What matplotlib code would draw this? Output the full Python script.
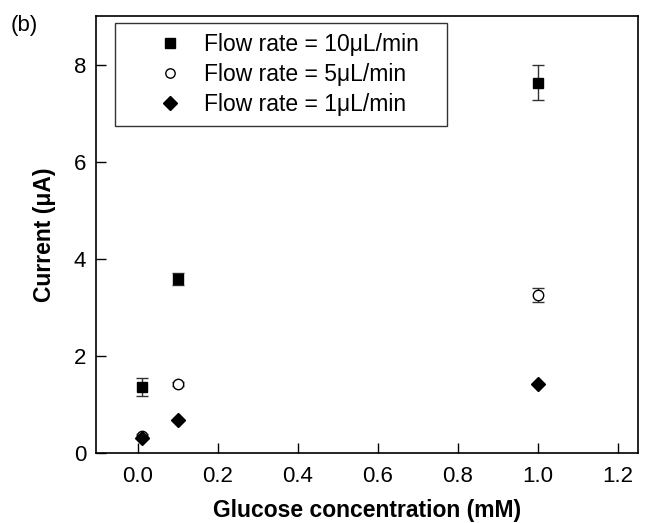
import matplotlib
matplotlib.use("Agg")
import matplotlib.pyplot as plt

plt.rcParams['font.family'] = ['Liberation Sans', 'DejaVu Sans']

conc = [0.01, 0.1, 1.0]
cur_10 = [1.36, 3.58, 7.63]
err_10 = [0.18, 0.13, 0.36]
cur_5 = [0.36, 1.42, 3.26]
err_5 = [0.03, 0.04, 0.14]
cur_1 = [0.30, 0.68, 1.42]
err_1 = [0.0, 0.0, 0.0]

fig = plt.figure(figsize=(6.57, 5.23), dpi=100)
ax = fig.add_axes([96/657, 70/523, 542/657, 437/523])

ax.errorbar(conc, cur_10, yerr=err_10, fmt='s', color='black', ms=7.5,
            ecolor='#333333', elinewidth=1, capsize=4.5,
            label='Flow rate = 10μL/min')
ax.errorbar(conc, cur_5, yerr=err_5, fmt='o', mfc='white', mec='black', ms=7.5,
            ecolor='#333333', elinewidth=1, capsize=4.5,
            label='Flow rate = 5μL/min')
ax.errorbar(conc, cur_1, yerr=err_1, fmt='D', color='black', ms=7.5,
            ecolor='#333333', elinewidth=1, capsize=0,
            label='Flow rate = 1μL/min')

ax.set_xlim(-0.105, 1.25)
ax.set_ylim(0, 9)
ax.set_xticks([0.0, 0.2, 0.4, 0.6, 0.8, 1.0, 1.2])
ax.set_yticks([0, 2, 4, 6, 8])
ax.tick_params(direction='in', length=7, labelsize=16, width=1)
ax.tick_params(axis='x', pad=9)
ax.tick_params(axis='y', pad=7)
for s in ax.spines.values():
    s.set_linewidth(1.2)

ax.set_xlabel('Glucose concentration (mM)', fontsize=16.5, fontweight='bold',
              labelpad=9)
ax.set_ylabel('Current (μA)', fontsize=16.5, fontweight='bold', labelpad=13)

handles, labels = ax.get_legend_handles_labels()
handles = [h[0] for h in handles]
leg = ax.legend(handles, labels, loc='upper left',
                bbox_to_anchor=(0.035, 0.0, 0.6125, 0.984), mode='expand',
                fontsize=16.5, frameon=True, fancybox=False, edgecolor='black',
                markerscale=0.9, handlelength=3.9, handletextpad=-0.45,
                borderpad=0.45, labelspacing=0.3, borderaxespad=0)
leg.get_frame().set_linewidth(1)

fig.text(11/657, 1 - 25/523, '(b)', fontsize=16, va='center')

fig.savefig('out.png', dpi=100)
